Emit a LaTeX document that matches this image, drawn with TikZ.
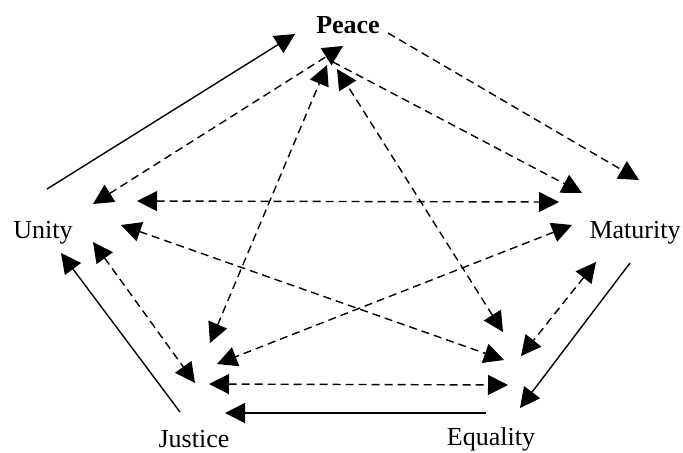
\documentclass[tikz,border=0pt]{standalone}
\usepackage{fontspec}
\setmainfont{Liberation Serif}
\usetikzlibrary{arrows.meta}
\begin{document}
\begin{tikzpicture}[x=0.5pt,y=-0.5pt,
    >={Triangle[length=10pt,width=10pt]},
    link/.style={line width=0.7pt},
    dlink/.style={line width=0.7pt,dash pattern=on 4pt off 2.5pt},
    word/.style={font=\fontsize{13}{15}\selectfont}]
    \useasboundingbox (0,0) rectangle (683,452);
    % the five values
    \node[word,font=\fontsize{13}{15}\selectfont\bfseries] (peace) at (348,25) {Peace};
    \node[word] (unity) at (43,233) {Unity};
    \node[word] (maturity) at (635,233) {Maturity};
    \node[word] (justice) at (194,439) {Justice};
    \node[word] (equality) at (491,439) {Equality};
    % ends of the arrows
    \foreach \n/\x/\y in {p1/295/34, p2/388/33, p3/343/46, p4/333/62, p5/327/65, p6/337/69,
        u1/47/189, u2/93/204, u3/137/201, u4/121/225, u5/93/242, u6/61/253,
        m1/639/180, m2/582/193, m3/559/202, m4/572/225, m5/596/262, m6/630/263,
        j1/210/343, j2/217/364, j3/195/383, j4/209/384, j5/225/413, j6/180/412,
        e1/503/332, e2/504/360, e3/508/385, e4/486/413, e5/521/356, e6/520/408}
        \coordinate (\n) at (\x,\y);
    % outer ring
    \draw[link,->] (u1) -- (p1);
    \draw[dlink,->] (p2) -- (m1);
    \draw[link,->] (m6) -- (e6);
    \draw[link,->] (e4) -- (j5);
    \draw[link,->] (j6) -- (u6);
    % inner links
    \draw[dlink,<->] (u2) -- (p3);
    \draw[dlink,->] (p4) -- (m2);
    \draw[dlink,<->] (u3) -- (m3);
    \draw[dlink,<->] (j1) -- (p5);
    \draw[dlink,<->] (e1) -- (p6);
    \draw[dlink,<->] (u4) -- (e2);
    \draw[dlink,<->] (m4) -- (j2);
    \draw[dlink,<->] (u5) -- (j3);
    \draw[dlink,<->] (j4) -- (e3);
    \draw[dlink,<->] (m5) -- (e5);
\end{tikzpicture}
\end{document}
